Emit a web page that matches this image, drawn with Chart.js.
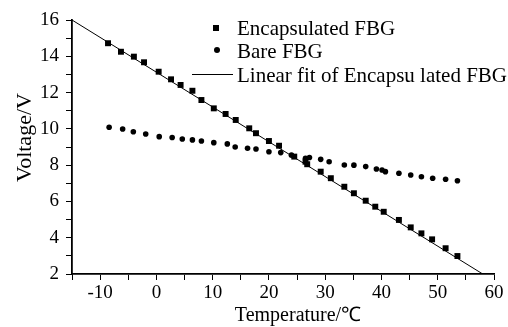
<!DOCTYPE html>
<html>
<head>
<meta charset="utf-8">
<script src="https://cdn.jsdelivr.net/npm/chart.js@4"></script>
<style>
  body { margin: 0; background: #fff; }
  canvas { display: block; }
</style>
</head>
<body>
<canvas id="fbg" width="508" height="327"></canvas>
<script>
// Encapsulated FBG (squares)
const encTemps = [-8.6, -6.3, -4.0, -2.2, 0.4, 2.6, 4.3, 6.4, 8.0, 10.2, 12.3, 14.1, 16.5, 17.7, 20.0, 21.8,
  24.5, 26.5, 26.8, 29.2, 31.0, 33.4, 35.1, 37.2, 38.9, 40.4, 43.1, 45.2, 47.1, 49.0, 51.4, 53.5];
const encVolts = [14.72, 14.25, 13.98, 13.67, 13.15, 12.73, 12.42, 12.1, 11.59, 11.13, 10.82, 10.49, 10.03, 9.76, 9.33, 9.07,
  8.47, 8.19, 8.05, 7.64, 7.28, 6.81, 6.45, 6.04, 5.71, 5.43, 4.98, 4.57, 4.24, 3.91, 3.42, 2.99];

// Bare FBG (circles)
const bareTemps = [-8.4, -6.0, -4.1, -1.9, 0.5, 2.8, 4.6, 6.4, 8.0, 10.2, 12.6, 14.0, 16.2, 17.7, 20.0, 22.1, 24.0,
  26.5, 27.2, 29.2, 30.7, 33.4, 35.1, 37.2, 39.1, 40.1, 40.7, 43.1, 45.2, 47.1, 49.1, 51.4, 53.5];
const bareVolts = [10.09, 9.99, 9.84, 9.72, 9.57, 9.52, 9.44, 9.39, 9.33, 9.24, 9.17, 9.0, 8.93, 8.89, 8.74, 8.69, 8.55,
  8.38, 8.42, 8.32, 8.19, 8.01, 8.0, 7.92, 7.79, 7.73, 7.64, 7.55, 7.46, 7.36, 7.28, 7.22, 7.14];

// linear fit end points
const fitTemps = [-15, 58];
const fitVolts = [16, 2];

const seriesNames = ["Encapsulated FBG", "Bare FBG", "Linear fit of Encapsu lated FBG"];
const xTitle = "Temperature/℃";
const yTitle = "Voltage/V";

const serif = "'Liberation Serif', 'Times New Roman', serif";
const toPoints = (xs, ys) => xs.map((x, i) => ({ x: x, y: ys[i] }));

// legend inside the plot (top right) + axis titles
const extras = {
  id: "extras",
  afterDraw: (chart) => {
    const ctx = chart.ctx;
    const rows = [35, 58, 82];
    ctx.save();
    ctx.fillStyle = "#000";
    ctx.strokeStyle = "#000";
    ctx.fillRect(213, 25, 6, 6);
    ctx.beginPath();
    ctx.arc(217, 50, 3, 0, Math.PI * 2);
    ctx.fill();
    ctx.lineWidth = 1;
    ctx.beginPath();
    ctx.moveTo(192, 74.5);
    ctx.lineTo(233, 74.5);
    ctx.stroke();

    ctx.font = "21px " + serif;
    ctx.textBaseline = "alphabetic";
    ctx.textAlign = "left";
    seriesNames.forEach((name, i) => ctx.fillText(name, 237, rows[i]));

    // x title
    ctx.font = "20px " + serif;
    ctx.textAlign = "center";
    ctx.fillText(xTitle, 298, 320.5);

    // y title
    ctx.font = "22px " + serif;
    ctx.translate(30.5, 137.5);
    ctx.rotate(-Math.PI / 2);
    ctx.fillText(yTitle, 0, 0);
    ctx.restore();
  },
};

const ctx = document.getElementById("fbg").getContext("2d");
new Chart(ctx, {
  type: "scatter",
  data: {
    datasets: [
      {
        label: seriesNames[2],
        type: "line",
        data: toPoints(fitTemps, fitVolts),
        borderColor: "#000",
        borderWidth: 1,
        pointRadius: 0,
        fill: false,
      },
      {
        label: seriesNames[0],
        data: toPoints(encTemps, encVolts),
        pointStyle: "rect",
        pointRadius: 4.2,
        backgroundColor: "#000",
        borderColor: "#000",
        borderWidth: 0,
      },
      {
        label: seriesNames[1],
        data: toPoints(bareTemps, bareVolts),
        pointStyle: "circle",
        pointRadius: 2.8,
        backgroundColor: "#000",
        borderColor: "#000",
        borderWidth: 0,
      },
    ],
  },
  options: {
    responsive: false,
    animation: false,
    layout: { padding: { top: 20, right: 14, left: 0, bottom: 0 } },
    plugins: {
      legend: { display: false },
      tooltip: { enabled: false },
    },
    scales: {
      x: {
        type: "linear",
        min: -15,
        max: 60,
        afterFit: (s) => { s.height = 53; },
        border: { color: "#000", width: 1.8 },
        grid: { drawOnChartArea: false, color: "#000", tickLength: 6 },
        ticks: {
          stepSize: 5,
          autoSkip: false,
          maxRotation: 0,
          padding: 2,
          color: "#000",
          font: { family: serif, size: 19 },
          callback: (v) => (v % 10 === 0 ? v : ""),
        },
      },
      y: {
        min: 2,
        max: 16,
        afterFit: (s) => { s.width = 72; },
        border: { color: "#000", width: 1.8 },
        grid: { drawOnChartArea: false, color: "#000", tickLength: 6 },
        ticks: {
          stepSize: 1,
          autoSkip: false,
          padding: 7,
          color: "#000",
          font: { family: serif, size: 19 },
          callback: (v) => (v % 2 === 0 ? v : ""),
        },
      },
    },
  },
  plugins: [extras],
});
</script>
</body>
</html>
